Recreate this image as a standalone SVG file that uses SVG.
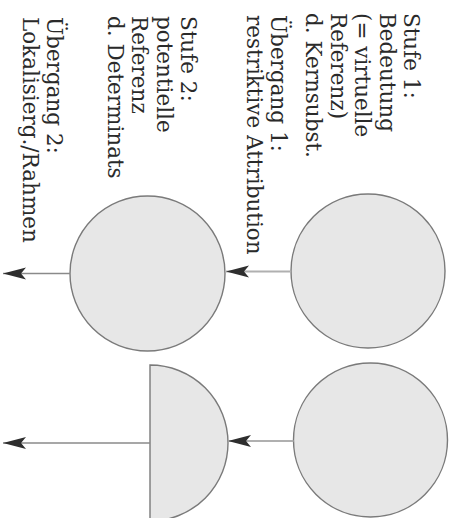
<svg xmlns="http://www.w3.org/2000/svg" width="450" height="518" viewBox="0 0 450 518">
  <style>
    .disc { fill: #e7e7e7; stroke: #7a7a7a; stroke-width: 1.4; }
    .lbl { font-family: "DejaVu Serif", "Liberation Serif", serif; font-size: 21.5px; fill: #2a2a2a; }
    .conn { stroke: #8a8a8a; stroke-width: 1.6; fill: none; marker-end: url(#head); }
  </style>
  <defs>
    <marker id="head" markerUnits="userSpaceOnUse" markerWidth="24" markerHeight="14" viewBox="0 0 24 14" refX="23" refY="7" orient="auto">
      <path d="M23,7 L0,1 L5,7 L0,13 Z" fill="#2e2e2e"/>
    </marker>
  </defs>

  <!-- labels, set vertically (rotated a quarter turn clockwise) -->
  <g id="label-stufe1">
    <text class="lbl" transform="translate(404,13) rotate(90)">
      <tspan x="0" y="0">Stufe 1:</tspan>
      <tspan x="0" dy="24.5">Bedeutung</tspan>
      <tspan x="0" dy="24.5">(= virtuelle</tspan>
      <tspan x="0" dy="24.5">Referenz)</tspan>
      <tspan x="0" dy="24.5">d. Kernsubst.</tspan>
    </text>
  </g>
  <g id="label-uebergang1">
    <text class="lbl" transform="translate(271,15) rotate(90)">
      <tspan x="0" y="0">Übergang 1:</tspan>
      <tspan x="0" dy="24.5">restriktive Attribution</tspan>
    </text>
  </g>
  <g id="label-stufe2">
    <text class="lbl" transform="translate(181,16) rotate(90)">
      <tspan x="0" y="0">Stufe 2:</tspan>
      <tspan x="0" dy="24.5">potentielle</tspan>
      <tspan x="0" dy="24.5">Referenz</tspan>
      <tspan x="0" dy="24.5">d. Determinats</tspan>
    </text>
  </g>
  <g id="label-uebergang2">
    <text class="lbl" transform="translate(47,17) rotate(90)">
      <tspan x="0" y="0">Übergang 2:</tspan>
      <tspan x="0" dy="24.5">Lokalisierg./Rahmen</tspan>
    </text>
  </g>

  <!-- shapes -->
  <g id="disc-a"><circle class="disc" cx="368" cy="271" r="77"/></g>
  <g id="disc-b"><circle class="disc" cx="147.5" cy="273.5" r="77.5"/></g>
  <g id="disc-c"><circle class="disc" cx="370.5" cy="440" r="77"/></g>
  <g id="half-disc-d"><path class="disc" d="M150,365 A78,78 0 0 1 150,521 Z"/></g>

  <!-- connectors -->
  <g id="connectors">
    <line class="conn" x1="291" y1="271.5" x2="226" y2="271.5" style="stroke:#b0b0b0;stroke-width:2"/>
    <line class="conn" x1="70" y1="273.5" x2="3" y2="273.5"/>
    <line class="conn" x1="293.5" y1="441" x2="228" y2="441" style="stroke:#b0b0b0;stroke-width:2"/>
    <line class="conn" x1="150" y1="443" x2="3" y2="443"/>
  </g>
</svg>
